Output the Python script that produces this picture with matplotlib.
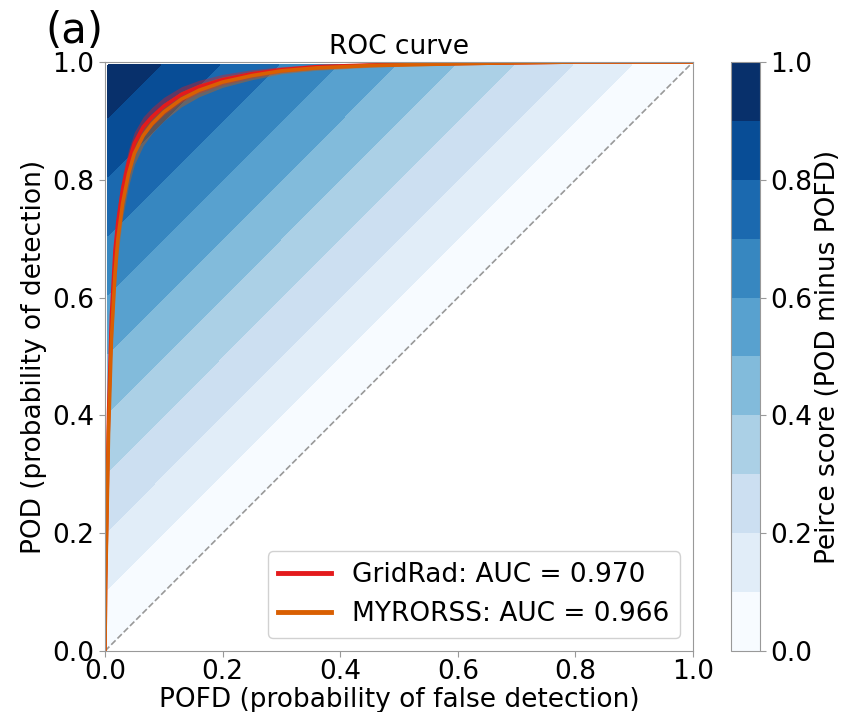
import numpy as np
import matplotlib
matplotlib.use('Agg')
import matplotlib.pyplot as plt
from matplotlib.colors import ListedColormap, BoundaryNorm

# ROC points (POFD on x, POD on y) for the two radar datasets
gridrad_pofd = [0, 0.001, 0.003, 0.006, 0.011, 0.017, 0.022, 0.030, 0.040,
                0.050, 0.065, 0.080, 0.100, 0.130, 0.160, 0.200, 0.250,
                0.300, 0.360, 0.450, 0.550, 0.650, 0.800, 1.0]
gridrad_pod = [0, 0.12, 0.23, 0.40, 0.57, 0.68, 0.73, 0.785, 0.83, 0.862,
               0.89, 0.907, 0.925, 0.945, 0.958, 0.970, 0.980, 0.987,
               0.992, 0.995, 0.997, 0.998, 1.0, 1.0]
myrorss_pofd = gridrad_pofd
myrorss_pod = [0, 0.11, 0.21, 0.37, 0.53, 0.64, 0.70, 0.76, 0.81, 0.845,
               0.875, 0.895, 0.915, 0.937, 0.952, 0.966, 0.977, 0.985,
               0.990, 0.994, 0.996, 0.998, 1.0, 1.0]
# half-width of the bootstrap confidence band (in POD)
band_halfwidth = [0, 0.025, 0.035, 0.035, 0.035, 0.03, 0.027, 0.024, 0.021,
                  0.019, 0.017, 0.016, 0.015, 0.013, 0.011, 0.009, 0.007,
                  0.005, 0.004, 0.003, 0.002, 0.001, 0, 0]

gridrad_auc = 0.970
myrorss_auc = 0.966

peirce_levels = np.linspace(0, 1, 11)
colorbar_ticks = [0.0, 0.2, 0.4, 0.6, 0.8, 1.0]

RED = '#e41a1c'
ORANGE = '#d95f02'
SPINE_GREY = '#999999'
FONT_SIZE = 19

plt.rcParams['font.family'] = 'DejaVu Sans'
plt.rcParams['font.size'] = FONT_SIZE

fig = plt.figure(figsize=(8.48, 7.12), dpi=100)
ax = fig.add_axes([0.1238, 0.0857, 0.6934, 0.8272])
cax = fig.add_axes([0.862, 0.0857, 0.0342, 0.8272])

# Peirce score background (POD - POFD)
grid_vals = np.linspace(0.005, 0.995, 200)
pofd_grid, pod_grid = np.meshgrid(grid_vals, grid_vals)
peirce_grid = pod_grid - pofd_grid
cmap = ListedColormap(plt.get_cmap('Blues')(np.linspace(0, 1, 10)))
norm = BoundaryNorm(peirce_levels, cmap.N)
cont = ax.contourf(pofd_grid, pod_grid, peirce_grid, levels=peirce_levels,
                   cmap=cmap, norm=norm)

# random-guess diagonal
ax.plot([0, 1], [0, 1], linestyle='--', color='#999999', linewidth=1.2)

# confidence bands then curves
for pofd, pod, colour in [(gridrad_pofd, gridrad_pod, RED),
                          (myrorss_pofd, myrorss_pod, ORANGE)]:
    pod = np.array(pod)
    hw = np.array(band_halfwidth)
    ax.fill_between(pofd, np.clip(pod - hw, 0, 1), np.clip(pod + hw, 0, 1),
                    color=colour, alpha=0.4, linewidth=0)

ax.plot(gridrad_pofd, gridrad_pod, color=RED, linewidth=2.6,
        label=f'GridRad: AUC = {gridrad_auc:.3f}')
ax.plot(myrorss_pofd, myrorss_pod, color=ORANGE, linewidth=2.6,
        label=f'MYRORSS: AUC = {myrorss_auc:.3f}')

ax.set_xlim(0, 1)
ax.set_ylim(0, 1)
ax.set_xticks(np.arange(0, 1.01, 0.2))
ax.set_yticks(np.arange(0, 1.01, 0.2))
ax.set_xlabel('POFD (probability of false detection)', labelpad=1)
ax.set_ylabel('POD (probability of detection)')
ax.set_title('ROC curve', fontsize=FONT_SIZE)
for spine in ax.spines.values():
    spine.set_color(SPINE_GREY)
ax.tick_params(color=SPINE_GREY, length=4)
ax.tick_params(axis='x', pad=2)

leg = ax.legend(loc='lower right', fontsize=FONT_SIZE, framealpha=0.9)
for line in leg.get_lines():
    line.set_linewidth(3.5)

cbar = fig.colorbar(cont, cax=cax, ticks=colorbar_ticks)
cbar.set_label('Peirce score (POD minus POFD)', fontsize=FONT_SIZE,
               labelpad=2)
cbar.ax.set_yticklabels([f'{t:.1f}' for t in colorbar_ticks])
cbar.ax.minorticks_off()
cbar.outline.set_edgecolor(SPINE_GREY)
cbar.ax.tick_params(color=SPINE_GREY, length=4)

fig.text(0.053, 0.94, '(a)', fontsize=30)

fig.savefig('out.png', dpi=100)
